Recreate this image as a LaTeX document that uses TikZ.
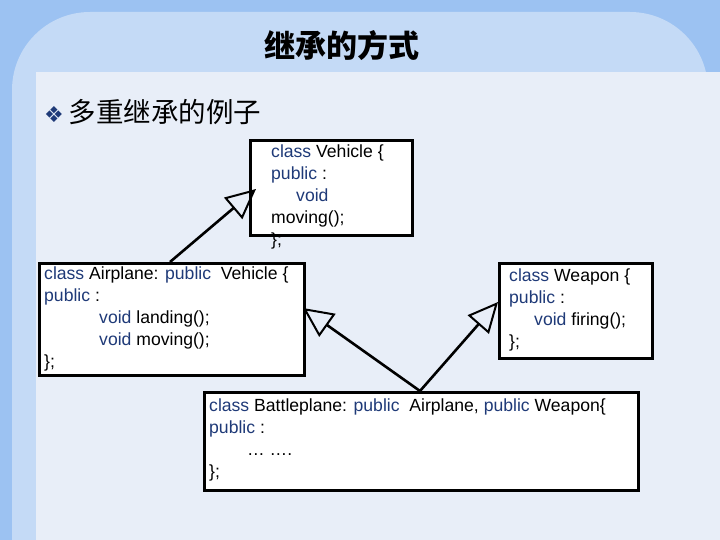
\documentclass[tikz,border=0pt]{standalone}
\usepackage{fontspec}
\setmainfont{Liberation Sans}
\newfontfamily\cjk{Noto Sans CJK SC}
\newfontfamily\djv{DejaVu Sans}
\usetikzlibrary{arrows.meta,shapes.geometric}
\definecolor{kw}{HTML}{1F3A78}
\definecolor{bgA}{HTML}{9CC2F2}
\definecolor{bgB}{HTML}{C4DAF6}
\definecolor{bgC}{HTML}{E8EEF8}
\newcommand{\kwd}[1]{\textcolor{kw}{#1}}
\begin{document}
\begin{tikzpicture}[x=1pt,y=-1pt,
  box/.style={draw=black,line width=2.6pt,fill=white,anchor=north west,inner sep=0pt},
  code/.style={anchor=north west,align=left,inner sep=0pt,font=\fontsize{17.6}{22}\selectfont},
  inh/.style={line width=2.6pt,-{Triangle[open,length=30pt,width=28pt,line width=2pt]}}]
\useasboundingbox (0,0) rectangle (720,540);
\fill[bgA] (0,0) rectangle (720,540);
\fill[bgB,rounded corners=78pt] (12,640) rectangle (708,12);
\fill[bgC] (36,72) rectangle (720,540);
\node[font=\cjk\bfseries\fontsize{31}{31}\selectfont] (title) at (342,46) {继承的方式};
\node[anchor=west,inner sep=0pt,font=\cjk\fontsize{27.5}{27.5}\selectfont] (sub) at (44,112) {\textcolor{kw}{\djv\fontsize{22}{22}\selectfont ❖}\,多重继承的例子};
% boxes
\node[box,minimum width=162pt,minimum height=95pt] (veh) at (249,139) {};
\node[box,minimum width=265pt,minimum height=112pt] (air) at (38,262) {};
\node[box,minimum width=153pt,minimum height=95pt] (wea) at (498,262) {};
\node[box,minimum width=434pt,minimum height=98pt] (bat) at (203,391) {};
% texts
\node[code] (tveh) at (271,145) {\kwd{class} Vehicle \{\\ \kwd{public} :\\ \hspace{25pt}\kwd{void}\\ moving();\\ \};};
\node[code] (tair) at (44,267) {\kwd{class} Airplane: \kwd{public}\ \ Vehicle \{\\ \kwd{public} :\\ \hspace{55pt}\kwd{void} landing();\\ \hspace{55pt}\kwd{void} moving();\\ \};};
\node[code] (twea) at (509,269) {\kwd{class} Weapon \{\\ \kwd{public} :\\ \hspace{25pt}\kwd{void} firing();\\ \};};
\node[code] (tbat) at (209,399) {\kwd{class} Battleplane: \kwd{public}\ \ Airplane, \kwd{public} Weapon\{\\ \kwd{public} :\\ \hspace{38pt}\dots\ \dots.\\ \};};
% inheritance arrows
\coordinate (a1) at (170,262);
\coordinate (v1) at (256,189);
\coordinate (b1) at (420,391);
\coordinate (a2) at (303,308);
\coordinate (w1) at (498,302);
\draw[inh] (a1) -- (v1);
\draw[inh] (b1) -- (a2);
\draw[inh] (b1) -- (w1);
\end{tikzpicture}
\end{document}
